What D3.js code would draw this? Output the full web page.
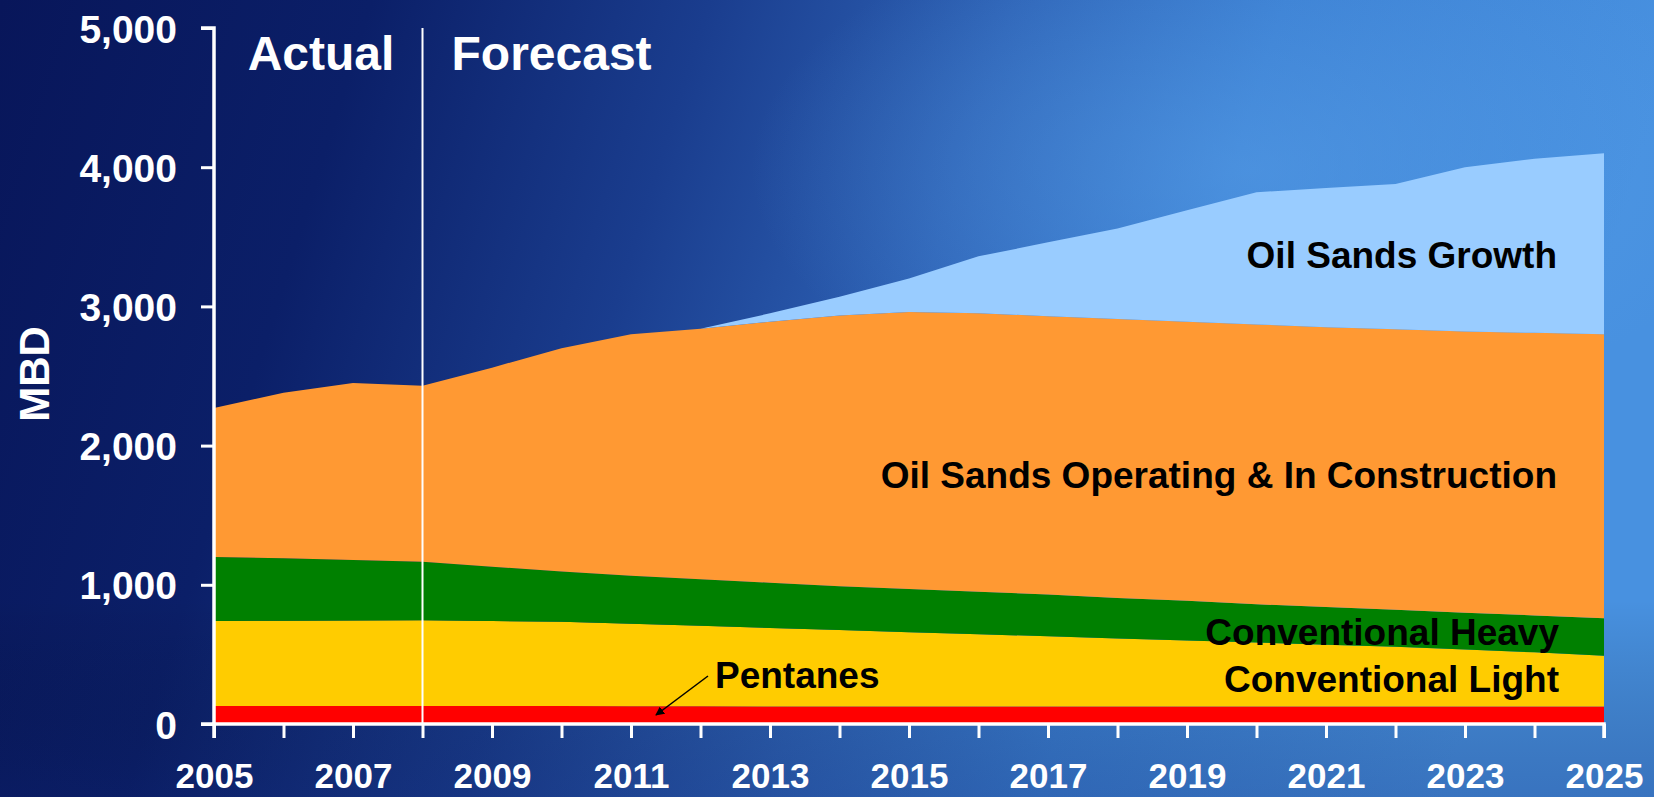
<!DOCTYPE html>
<html><head><meta charset="utf-8">
<script src="https://cdn.jsdelivr.net/npm/d3@7"></script>
<style>html,body{margin:0;padding:0;overflow:hidden;background:#0a1a5e}</style>
</head><body><svg id="c" width="1654" height="797"></svg>
<script>
const years = [2005,2006,2007,2008,2009,2010,2011,2012,2013,2014,2015,2016,2017,2018,2019,2020,2021,2022,2023,2024,2025];
const pentanes = [130,130,130,130,130,130,128,127,126,125,125,125,125,125,125,125,125,125,125,125,125];
const convLight = [610,612,614,615,610,605,592,578,564,550,535,520,505,490,475,460,445,430,410,390,365];
const convHeavy = [460,448,434,420,390,360,345,335,325,315,310,305,300,290,285,275,270,265,265,265,270];
const osOperating = [1070,1190,1272,1265,1430,1605,1735,1800,1875,1945,1990,2000,2000,2005,2005,2010,2010,2015,2020,2030,2040];
const osGrowth = [0,0,0,0,0,0,0,0,60,135,240,410,530,650,800,950,1000,1045,1180,1250,1300];
const seriesNames = ["Pentanes","Conventional Light","Conventional Heavy","Oil Sands Operating & In Construction","Oil Sands Growth"];
const seriesColors = ["#ff0000","#ffcc00","#008000","#ff9933","#99ccff"];
const yTicks = [0,1000,2000,3000,4000,5000];
const xTickLabels = [2005,2007,2009,2011,2013,2015,2017,2019,2021,2023,2025];
const dividerYear = 2008;

const svg = d3.select("#c");
const W = 1654, H = 797;
const defs = svg.append("defs");
const lg = defs.append("linearGradient").attr("id","bg").attr("x1","0").attr("y1","0").attr("x2","1").attr("y2","0.15");
[["0%","#08165a"],["22%","#0b1f68"],["42%","#1a3d8e"],["60%","#2e63b6"],["76%","#3b7fd2"],["100%","#4891e0"]].forEach(s=>lg.append("stop").attr("offset",s[0]).attr("stop-color",s[1]));
const rg = defs.append("radialGradient").attr("id","glow").attr("cx","0.5").attr("cy","0.5").attr("r","0.5");
rg.append("stop").attr("offset","0%").attr("stop-color","#5aa2ea").attr("stop-opacity",0.5);
rg.append("stop").attr("offset","100%").attr("stop-color","#5aa2ea").attr("stop-opacity",0);
svg.append("rect").attr("width",W).attr("height",H).attr("fill","url(#bg)");
svg.append("ellipse").attr("cx",1250).attr("cy",170).attr("rx",500).attr("ry",260).attr("fill","url(#glow)");
const lg2 = defs.append("linearGradient").attr("id","botShade").attr("x1","0").attr("y1","0").attr("x2","0").attr("y2","1");
lg2.append("stop").attr("offset","0%").attr("stop-color","#000") .attr("stop-opacity",0);
lg2.append("stop").attr("offset","100%").attr("stop-color","#0a1a5e").attr("stop-opacity",0.25);
svg.append("rect").attr("x",0).attr("y",600).attr("width",W).attr("height",197).attr("fill","url(#botShade)");

const x = d3.scaleLinear().domain([2005,2025]).range([214,1604]);
const y = d3.scaleLinear().domain([0,5000]).range([724,28]);

const rows = years.map((yr,i)=>({year:yr, s0:pentanes[i], s1:convLight[i], s2:convHeavy[i], s3:osOperating[i], s4:osGrowth[i]}));
const keys = ["s0","s1","s2","s3","s4"];
const stacked = d3.stack().keys(keys)(rows);
const area = d3.area().x(d=>x(d.data.year)).y0(d=>y(d[0])).y1(d=>y(d[1])).curve(d3.curveLinear);
svg.append("g").selectAll("path").data(stacked).join("path")
  .attr("d",area).attr("fill",(d,i)=>seriesColors[i]);

// divider
svg.append("line").attr("x1",x(dividerYear)).attr("x2",x(dividerYear)).attr("y1",y(5000)).attr("y2",y(0))
  .attr("stroke","#fff").attr("stroke-width",2);

const font = "Liberation Sans, Arial, sans-serif";
// axes
const yAxis = d3.axisLeft(y).tickValues(yTicks).tickFormat(d3.format(",")).tickSize(13).tickPadding(24);
const gy = svg.append("g").attr("transform",`translate(${x(2005)},0)`).call(yAxis);
const xAxis = d3.axisBottom(x).tickValues(years).tickFormat(d=>xTickLabels.includes(d)?d:"").tickSize(14).tickPadding(25);
const gx = svg.append("g").attr("transform",`translate(0,${y(0)})`).call(xAxis);
[gx,gy].forEach(g=>{
  g.select(".domain").attr("stroke","#fff").attr("stroke-width",3.5);
  g.selectAll(".tick line").attr("stroke","#fff").attr("stroke-width",3);
  g.selectAll("text").attr("fill","#fff").attr("font-family",font).attr("font-weight","bold");
});
gy.selectAll("text").attr("font-size",39).attr("dy","0.36em");
gx.selectAll("text").attr("font-size",35);
gy.select(".domain").attr("d",`M-13,${y(5000)}H0V${y(0)}H-13`);
gx.select(".domain").attr("d",`M${x(2005)},14V0H${x(2025)}V14`);

// titles
svg.append("text").attr("x",x(2005)+107).attr("y",70).attr("text-anchor","middle").attr("font-family",font).attr("font-weight","bold").attr("font-size",48).attr("fill","#fff").text("Actual");
svg.append("text").attr("x",x(dividerYear)+29).attr("y",70).attr("font-family",font).attr("font-weight","bold").attr("font-size",48).attr("fill","#fff").text("Forecast");
svg.append("text").attr("transform","translate(49,374) rotate(-90)").attr("text-anchor","middle").attr("font-family",font).attr("font-weight","bold").attr("font-size",42).attr("fill","#fff").text("MBD");

// series labels
const lab = (t,xx,yy,anchor)=>svg.append("text").attr("x",xx).attr("y",yy).attr("text-anchor",anchor).attr("font-family",font).attr("font-weight","bold").attr("font-size",37).attr("fill","#000").text(t);
lab(seriesNames[4],1557,268,"end");
lab(seriesNames[3],1557,488,"end");
lab(seriesNames[2],1559,645,"end");
lab(seriesNames[1],1559,692,"end");
lab(seriesNames[0],715,688,"start");

// arrow
defs.append("marker").attr("id","arr").attr("viewBox","0 0 10 10").attr("refX",9).attr("refY",5).attr("markerWidth",6).attr("markerHeight",6).attr("orient","auto")
  .append("path").attr("d","M0,0L10,5L0,10z").attr("fill","#000");
svg.append("line").attr("x1",708).attr("y1",676).attr("x2",656).attr("y2",715).attr("stroke","#000").attr("stroke-width",1.5).attr("marker-end","url(#arr)");
</script></body></html>
